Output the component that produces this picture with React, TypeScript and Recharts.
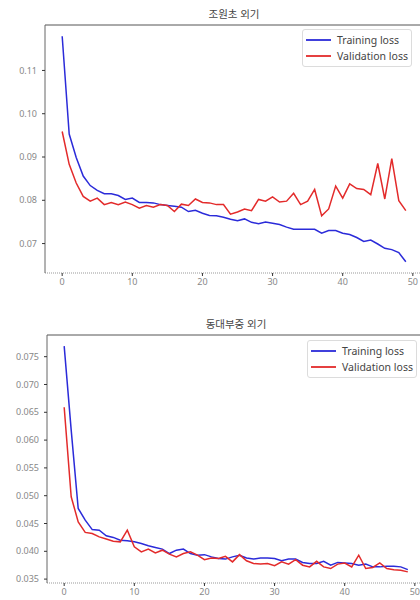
import React from "react";
import {
  LineChart,
  Line,
  XAxis,
  YAxis,
  Legend,
  ReferenceLine,
} from "recharts";

// 조원초 외기
const jowonTrain = [
  0.1179, 0.0953, 0.0899, 0.0856, 0.0834, 0.0823, 0.0815, 0.0815, 0.0811, 0.0802,
  0.0805, 0.0795, 0.0795, 0.0794, 0.079, 0.0788, 0.0786, 0.0784, 0.0774, 0.0777,
  0.077, 0.0765, 0.0764, 0.0761, 0.0756, 0.0753, 0.0757, 0.0749, 0.0746, 0.075,
  0.0747, 0.0744, 0.0738, 0.0733, 0.0733, 0.0733, 0.0733, 0.0724, 0.073, 0.073,
  0.0724, 0.0721, 0.0714, 0.0705, 0.0708, 0.0699, 0.0689, 0.0686, 0.0679, 0.0658,
];
const jowonVal = [
  0.0959, 0.0883, 0.084, 0.0809, 0.0798, 0.0805, 0.079, 0.0795, 0.079, 0.0796,
  0.079, 0.0782, 0.0788, 0.0784, 0.079, 0.0788, 0.0774, 0.0791, 0.0788, 0.0803,
  0.0795, 0.0794, 0.079, 0.079, 0.0768, 0.0773, 0.078, 0.0776, 0.0802, 0.0798,
  0.0808, 0.0796, 0.0798, 0.0816, 0.079, 0.0798, 0.0825, 0.0764, 0.078, 0.0833,
  0.0805, 0.0838, 0.0827, 0.0825, 0.0813, 0.0885, 0.0803, 0.0896, 0.0799, 0.0776,
];

// 동대부중 외기
const dongdaeTrain = [
  0.0769, 0.0618, 0.0477, 0.0456, 0.0439, 0.0438, 0.0428, 0.0425, 0.042, 0.0419,
  0.0417, 0.0414, 0.041, 0.0407, 0.0404, 0.0396, 0.0402, 0.0404, 0.0396, 0.0393,
  0.0394, 0.039, 0.0387, 0.0386, 0.039, 0.0393, 0.0388, 0.0386, 0.0388, 0.0388,
  0.0387, 0.0383, 0.0386, 0.0386, 0.038, 0.0378, 0.0378, 0.0382, 0.0375, 0.038,
  0.0379, 0.0378, 0.0375, 0.0377, 0.0372, 0.0372, 0.0373, 0.0373, 0.0372, 0.0367,
];
const dongdaeVal = [
  0.0659, 0.0498, 0.0453, 0.0434, 0.0432, 0.0426, 0.0422, 0.0418, 0.0417, 0.0438,
  0.0408, 0.0399, 0.0404, 0.0397, 0.0402, 0.0395, 0.039, 0.0396, 0.0399, 0.0393,
  0.0385, 0.0388, 0.0387, 0.0391, 0.0381, 0.0394, 0.0383, 0.0378, 0.0377, 0.0378,
  0.0374, 0.0381, 0.0377, 0.0385, 0.0375, 0.0372, 0.0382, 0.0372, 0.0369, 0.0377,
  0.0379, 0.0372, 0.0393, 0.0369, 0.0371, 0.0379, 0.0369, 0.0367, 0.0366, 0.0363,
];

const xTicks = [0, 10, 20, 30, 40, 50];
const jowonTicks = [0.07, 0.08, 0.09, 0.1, 0.11];
const dongdaeTicks = [0.035, 0.04, 0.045, 0.05, 0.055, 0.06, 0.065, 0.07, 0.075];

const BLUE = "#2b2bd9";
const RED = "#e32b2b";
const FONT = "'Noto Sans', 'Noto Sans CJK KR', sans-serif";

const toRows = (train: number[], val: number[]) =>
  train.map((t, i) => ({ epoch: i, train: t, val: val[i] }));

const LegendBox = ({ payload }: any) => (
  <div
    style={{
      border: "1px solid #dcdcdc",
      borderRadius: 3,
      background: "#fff",
      width: 110,
      padding: "2px 0",
      fontFamily: FONT,
      fontSize: 10.5,
      color: "#444",
      boxSizing: "border-box",
    }}
  >
    {(payload || []).map((p: any) => (
      <div
        key={p.value}
        style={{ display: "flex", alignItems: "center", height: 16 }}
      >
        <svg width={34} height={16}>
          <line x1={3} x2={28} y1={8} y2={8} stroke={p.color} strokeWidth={1.8} />
        </svg>
        <span>{p.value}</span>
      </div>
    ))}
  </div>
);

type PanelProps = {
  title: string;
  train: number[];
  val: number[];
  yDomain: [number, number];
  yTicks: number[];
  digits: number;
  top: number;
  marginTop: number;
  yWidth: number;
  legendTop: number;
  legendLeft: number;
  titleTop: number;
};

const Panel = (p: PanelProps) => {
  const rows = toRows(p.train, p.val);
  return (
    <div style={{ position: "absolute", left: 0, top: p.top }}>
      <div
        style={{
          position: "absolute",
          top: p.titleTop,
          left: p.yWidth,
          width: 378,
          textAlign: "center",
          fontFamily: FONT,
          fontSize: 10.5,
          color: "#444",
          zIndex: 2,
        }}
      >
        {p.title}
      </div>
      <LineChart
        width={430}
        height={p.marginTop + 248 + 20}
        data={rows}
        margin={{ top: p.marginTop, right: 430 - p.yWidth - 378, bottom: 0, left: 0 }}
      >
        <XAxis
          dataKey="epoch"
          type="number"
          domain={[-2.45, 51.45]}
          allowDataOverflow
          ticks={xTicks}
          height={20}
          tickSize={3}
          tickMargin={3}
          axisLine={{ stroke: "#999", strokeDasharray: "1 1" }}
          tickLine={{ stroke: "#333" }}
          tick={{ fontSize: 9, fill: "#888", fontFamily: FONT }}
        />
        <YAxis
          type="number"
          domain={p.yDomain}
          allowDataOverflow
          ticks={p.yTicks}
          width={p.yWidth}
          tickSize={3}
          tickMargin={5}
          axisLine={{ stroke: "#666" }}
          tickLine={{ stroke: "#333" }}
          tick={{ fontSize: 9, fill: "#888", fontFamily: FONT }}
          tickFormatter={(v: number) => v.toFixed(p.digits)}
        />
        <ReferenceLine y={p.yDomain[1]} stroke="#555" />
        <Legend
          layout="horizontal"
          verticalAlign="middle"
          align="center"
          wrapperStyle={{ top: p.legendTop, left: p.legendLeft, width: 112 }}
          content={<LegendBox />}
        />
        <Line
          dataKey="train"
          name="Training loss"
          stroke={BLUE}
          strokeWidth={1.5}
          dot={false}
          type="linear"
          isAnimationActive={false}
        />
        <Line
          dataKey="val"
          name="Validation loss"
          stroke={RED}
          strokeWidth={1.5}
          dot={false}
          type="linear"
          isAnimationActive={false}
        />
      </LineChart>
    </div>
  );
};

export default function App() {
  return (
    <div
      style={{
        position: "absolute",
        left: 0,
        top: 0,
        width: 420,
        height: 600,
        overflow: "hidden",
        background: "#fff",
      }}
    >
      <Panel
        title="조원초 외기"
        train={jowonTrain}
        val={jowonVal}
        yDomain={[0.0632, 0.1205]}
        yTicks={jowonTicks}
        digits={2}
        top={0}
        marginTop={25}
        yWidth={45}
        legendTop={29}
        legendLeft={302}
        titleTop={6}
      />
      <Panel
        title="동대부중 외기"
        train={dongdaeTrain}
        val={dongdaeVal}
        yDomain={[0.0343, 0.0789]}
        yTicks={dongdaeTicks}
        digits={3}
        top={300}
        marginTop={35}
        yWidth={47}
        legendTop={40}
        legendLeft={307}
        titleTop={16}
      />
    </div>
  );
}
